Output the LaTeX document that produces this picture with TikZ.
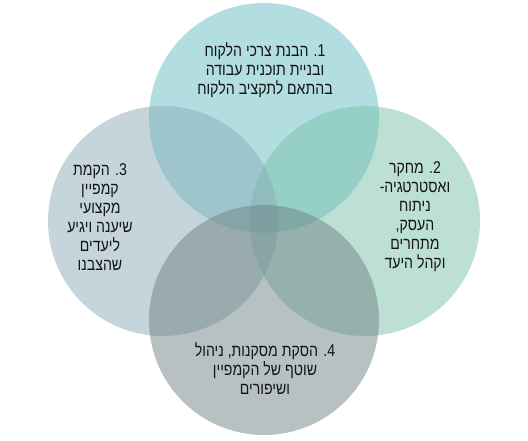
\documentclass[tikz,border=0pt]{standalone}
\usepackage{fontspec}
\TeXXeTstate=1
\newfontfamily\hebfont[Script=Hebrew,FakeStretch=0.83]{Liberation Sans}
\newcommand{\rl}[1]{\beginR #1\endR}
\definecolor{ctop}{RGB}{101,187,195}
\definecolor{cright}{RGB}{123,193,171}
\definecolor{cleft}{RGB}{139,171,183}
\definecolor{cbottom}{RGB}{111,131,133}
\definecolor{txt}{RGB}{20,20,20}
\tikzset{
  venn/.style={fill opacity=0.5, draw=none},
  lbl/.style={align=center, text=txt, font=\hebfont\fontsize{17}{19}\selectfont, inner sep=0pt}
}
\begin{document}
\begin{tikzpicture}[x=1pt,y=-1pt]
\useasboundingbox (0,0) rectangle (528,440);
\fill[venn, ctop] (264,118) circle[radius=115];
\fill[venn, cright] (365,221) circle[radius=115];
\fill[venn, cleft] (163,221) circle[radius=115];
\fill[venn, cbottom] (264,320) circle[radius=115];
\node[lbl] (t1) at (265,70) {\rl{\beginL1.\endL{} הבנת צרכי הלקוח}\\\rl{ובניית תוכנית עבודה}\\\rl{בהתאם לתקציב הלקוח}};
\node[lbl] (t2) at (415,217) {\rl{\beginL2.\endL{} מחקר}\\\rl{ואסטרטגיה-}\\\rl{ניתוח}\\\rl{העסק,}\\\rl{מתחרים}\\\rl{וקהל היעד}};
\node[lbl] (t3) at (100,217) {\rl{\beginL3.\endL{} הקמת}\\\rl{קמפיין}\\\rl{מקצועי}\\\rl{שיענה ויגיע}\\\rl{ליעדים}\\\rl{שהצבנו}};
\node[lbl] (t4) at (265,369) {\rl{\beginL4.\endL{} הסקת מסקנות, ניהול}\\\rl{שוטף של הקמפיין}\\\rl{ושיפורים}};
\end{tikzpicture}
\end{document}
